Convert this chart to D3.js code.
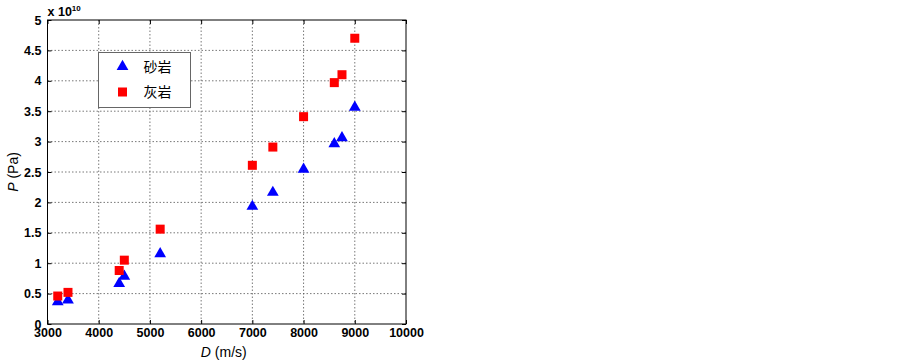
<!DOCTYPE html>
<meta charset="utf-8">
<script src="https://d3js.org/d3.v7.min.js"></script>
<body style="margin:0;background:#fff">
<div id="chart"></div>
<script>
  // data (P in units of 1e10 Pa)
  const speeds = [3200, 3400, 4400, 4500, 5200, 7000, 7400, 8000, 8600, 8750, 9000];
  const sandstone = [0.38, 0.41, 0.68, 0.80, 1.17, 1.95, 2.18, 2.56, 2.98, 3.08, 3.58];
  const limestone = [0.46, 0.52, 0.88, 1.05, 1.56, 2.61, 2.91, 3.41, 3.97, 4.10, 4.70];
  const xTicks = [3000, 4000, 5000, 6000, 7000, 8000, 9000, 10000];
  const yTicks = [0, 0.5, 1, 1.5, 2, 2.5, 3, 3.5, 4, 4.5, 5];
  const seriesNames = ["砂岩", "灰岩"];

  const W = 902, H = 361;
  const margin = {top: 20, left: 47.5, right: 496, bottom: 37};
  const width = W - margin.left - margin.right,
        height = H - margin.top - margin.bottom;

  const svg = d3.select("#chart").append("svg")
      .attr("width", W).attr("height", H)
      .style("font-family", "Arial, 'Liberation Sans', sans-serif");
  const g = svg.append("g").attr("transform", `translate(${margin.left},${margin.top})`);

  const x = d3.scaleLinear().domain([3000, 10000]).range([0, width]);
  const y = d3.scaleLinear().domain([0, 5]).range([height, 0]);

  // dotted grid
  g.append("g").selectAll("line").data(xTicks.slice(1, -1)).join("line")
      .attr("x1", d => x(d)).attr("x2", d => x(d)).attr("y1", 0).attr("y2", height)
      .attr("stroke", "#555").attr("stroke-width", 0.8).attr("stroke-dasharray", "1.5,2");
  g.append("g").selectAll("line").data(yTicks.slice(1, -1)).join("line")
      .attr("y1", d => y(d)).attr("y2", d => y(d)).attr("x1", 0).attr("x2", width)
      .attr("stroke", "#555").attr("stroke-width", 0.8).attr("stroke-dasharray", "1.5,2");

  // axes with inward ticks
  const xAxis = g.append("g").attr("transform", `translate(0,${height})`)
      .call(d3.axisBottom(x).tickValues(xTicks).tickSize(-4).tickPadding(4).tickFormat(d3.format("d")));
  const xTop = g.append("g").call(d3.axisTop(x).tickValues(xTicks).tickSize(-4).tickFormat(""));
  const yAxis = g.append("g")
      .call(d3.axisLeft(y).tickValues(yTicks).tickSize(-4).tickPadding(6).tickFormat(d => d3.format("")(d)));
  const yRight = g.append("g").attr("transform", `translate(${width},0)`)
      .call(d3.axisRight(y).tickValues(yTicks).tickSize(-4).tickFormat(""));
  [xAxis, xTop, yAxis, yRight].forEach(a => {
    a.select(".domain").remove();
    a.selectAll(".tick line").attr("stroke", "#000");
    a.selectAll("text").attr("fill", "#000").style("font-size", "12.5px").style("font-weight", "bold");
  });

  g.append("rect").attr("width", width).attr("height", height)
      .attr("fill", "none").attr("stroke", "#000").attr("stroke-width", 1);

  // exponent label
  svg.append("text").attr("x", margin.left).attr("y", 16)
      .style("font-size", "12.5px").style("font-weight", "bold")
      .text("x 10").append("tspan").attr("dy", -5).style("font-size", "8px").text("10");

  // axis titles
  const xt = svg.append("text").attr("x", margin.left + width / 2 - 3).attr("y", 357)
      .attr("text-anchor", "middle").style("font-size", "14px");
  xt.append("tspan").style("font-style", "italic").text("D");
  xt.append("tspan").text(" (m/s)");
  const yt = svg.append("text")
      .attr("transform", `translate(18,${margin.top + height / 2}) rotate(-90)`)
      .attr("text-anchor", "middle").style("font-size", "14px");
  yt.append("tspan").style("font-style", "italic").text("P");
  yt.append("tspan").text(" (Pa)");

  const tri = d3.symbol().type(d3.symbolTriangle).size(60);
  const sq = 9;

  // marks
  g.append("g").selectAll("path").data(speeds.map((d, i) => [d, sandstone[i]])).join("path")
      .attr("d", tri).attr("fill", "#0000ff")
      .attr("transform", d => `translate(${x(d[0])},${y(d[1]) + 1})`);
  g.append("g").selectAll("rect").data(speeds.map((d, i) => [d, limestone[i]])).join("rect")
      .attr("x", d => x(d[0]) - sq / 2).attr("y", d => y(d[1]) - sq / 2)
      .attr("width", sq).attr("height", sq).attr("fill", "#ff0000");

  // legend
  const lg = svg.append("g").attr("transform", "translate(98.5,52.5)");
  lg.append("rect").attr("width", 92).attr("height", 55)
      .attr("fill", "#fff").attr("stroke", "#666").attr("stroke-width", 1);
  lg.append("path").attr("d", tri).attr("fill", "#0000ff").attr("transform", "translate(24,14)");
  lg.append("rect").attr("x", 24 - sq / 2).attr("y", 39.5 - sq / 2).attr("width", sq).attr("height", sq).attr("fill", "#ff0000");
  lg.selectAll("text.lab").data(seriesNames).join("text")
      .attr("x", 45).attr("y", (d, i) => 19 + i * 25)
      .style("font-size", "14px").style("font-family", "'Noto Sans CJK SC', sans-serif")
      .text(d => d);
</script>
</body>
